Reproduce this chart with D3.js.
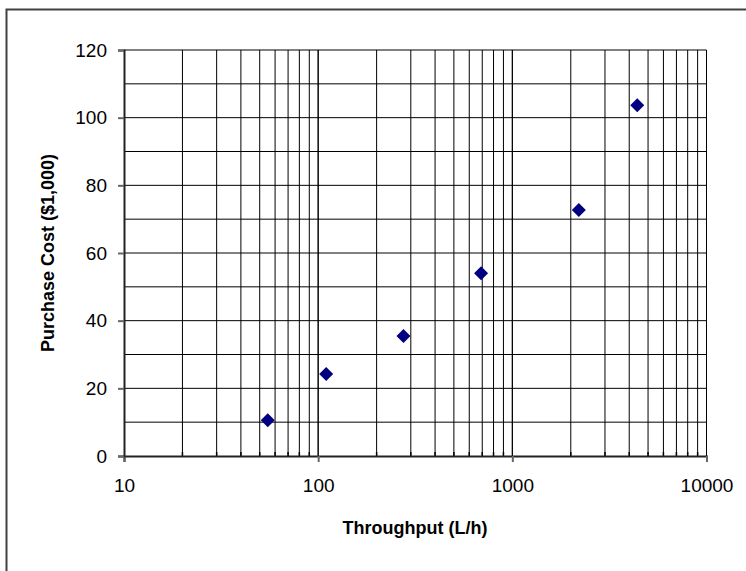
<!DOCTYPE html>
<html><head><meta charset="utf-8">
<script src="https://cdn.jsdelivr.net/npm/d3@7"></script>
<style>body{margin:0;background:#fff}svg{display:block}</style>
</head><body>
<script>
const throughput = [55, 110, 275, 690, 2200, 4400];
const purchaseCost = [10.6, 24.2, 35.5, 54, 72.7, 103.7];
const xTickLabels = ["10", "100", "1000", "10000"];
const yTickLabels = ["0", "20", "40", "60", "80", "100", "120"];

const W = 746, H = 571;
const svg = d3.select("body").append("svg").attr("width", W).attr("height", H);
const font = "'Liberation Sans', Arial, sans-serif";

// outer frame (only left & top visible)
svg.append("path").attr("d", `M6.5,${H+5}V9.5H${W+5}`).attr("fill","none").attr("stroke","#404040").attr("stroke-width",2);

const x = d3.scaleLog().domain([10, 10000]).range([124, 706.5]);
const y = d3.scaleLinear().domain([0, 120]).range([456, 50]);

const g = svg.append("g");
const xGrid = [];
for (let d = 10; d < 10000; d *= 10) for (let k = 1; k <= 10; k++) xGrid.push(d * k);
g.selectAll(".vg").data(xGrid.filter(v => v > 10)).enter().append("line")
  .attr("x1", d => x(d)).attr("x2", d => x(d)).attr("y1", y(0)).attr("y2", y(120))
  .attr("stroke", "#000").attr("stroke-width", 1);
const yGrid = d3.range(10, 121, 10);
g.selectAll(".hg").data(yGrid).enter().append("line")
  .attr("x1", x(10)).attr("x2", x(10000)).attr("y1", d => y(d)).attr("y2", d => y(d))
  .attr("stroke", "#000").attr("stroke-width", 1);

g.selectAll(".mt").data(xGrid.filter(v => xTickLabels.indexOf(String(v)) < 0)).enter().append("line")
  .attr("x1", d => x(d)).attr("x2", d => x(d)).attr("y1", y(0)).attr("y2", y(0) - 4)
  .attr("stroke", "#000").attr("stroke-width", 1.5);

const xAxis = d3.axisBottom(x).tickValues(xTickLabels.map(Number)).tickFormat((d, i) => xTickLabels[i]).tickSize(6).tickPadding(17);
const gx = svg.append("g").attr("transform", `translate(0,${y(0)})`).call(xAxis);
gx.select(".domain").attr("stroke", "#222").attr("stroke-width", 2);
gx.selectAll(".tick line").attr("stroke", "#666").attr("stroke-width", 2);
gx.selectAll("text").attr("font-family", font).attr("font-size", 19).attr("fill", "#000");

const yAxis = d3.axisLeft(y).tickValues(yTickLabels.map(Number)).tickFormat((d, i) => yTickLabels[i]).tickSize(6).tickPadding(11);
const gy = svg.append("g").attr("transform", `translate(${x(10)},0)`).call(yAxis);
gy.select(".domain").attr("stroke", "#222").attr("stroke-width", 2);
gy.selectAll(".tick line").attr("stroke", "#666").attr("stroke-width", 2);
gy.selectAll("text").attr("font-family", font).attr("font-size", 19).attr("fill", "#000");

const r = 7;
svg.selectAll(".pt").data(throughput.map((t, i) => [t, purchaseCost[i]])).enter().append("path")
  .attr("d", d => { const cx = x(d[0]), cy = y(d[1]); return `M${cx},${cy-r}L${cx+r},${cy}L${cx},${cy+r}L${cx-r},${cy}Z`; })
  .attr("fill", "#000080");

svg.append("text").attr("x", 415).attr("y", 534).attr("text-anchor", "middle")
  .attr("font-family", font).attr("font-weight", "bold").attr("font-size", 18).text("Throughput (L/h)");
svg.append("text").attr("transform", `translate(54,253) rotate(-90)`).attr("text-anchor", "middle")
  .attr("font-family", font).attr("font-weight", "bold").attr("font-size", 18).text("Purchase Cost ($1,000)");
</script>
</body></html>
